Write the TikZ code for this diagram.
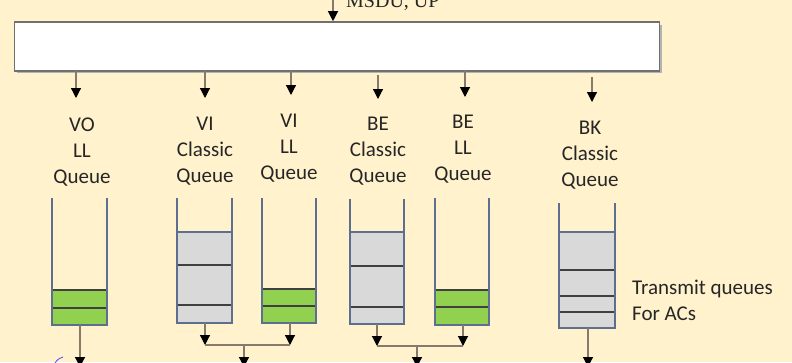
\documentclass[tikz,border=0pt]{standalone}
\usepackage{fontspec}
\setmainfont{Carlito}
\newfontfamily\msduface{Liberation Serif}
\usetikzlibrary{arrows.meta}

\definecolor{bg}{HTML}{FFF2CC}
\definecolor{wire}{HTML}{857B6C}
\definecolor{sidecol}{HTML}{5C6F8E}
\definecolor{greenq}{HTML}{92D050}
\definecolor{grayq}{HTML}{D9D9D9}
\definecolor{boxedge}{HTML}{707070}
\definecolor{ink}{HTML}{262626}

% one transmit queue: #1 left, #2 right, #3 top of the sides, #4 bottom,
% #5 top of the filled part, #6 fill colour, #7 edge of the filled part, #8 divider positions
\newcommand\qtube[8]{%
  \fill[#6] (#1,#5) rectangle (#2,#4);
  \draw[line width=1.3pt, #7] (#1,#5) -- (#2,#5);
  \foreach \d in {#8} \draw[divider] (#1,\d) -- (#2,\d);
  \draw[tubeside] (#1,#5) -- (#1,#4) -- (#2,#4) -- (#2,#5);
  \draw[tubeside] (#1,#3) -- (#1,#5) (#2,#3) -- (#2,#5);
}

\begin{document}
\begin{tikzpicture}[x=1pt,y=-1pt,
  flow/.style={draw=wire, line width=1.2pt,
    -{Triangle[width=10pt,length=10pt,color=black]}},
  wireline/.style={draw=wire, line width=1.2pt},
  lbl/.style={align=center, inner sep=0pt, text=ink,
    font=\fontsize{21}{26}\selectfont},
  tubeside/.style={draw=sidecol, line width=1.4pt, line join=miter},
  divider/.style={draw=black!75, line width=1.5pt},
  mainbox/.style={draw=boxedge, line width=1.6pt, fill=white,
    minimum width=645pt, minimum height=49pt, inner sep=0pt}]

\clip (0,0) rectangle (792,362);
\fill[bg] (0,0) rectangle (792,362);

% distribution block
\fill[black!30] (17,25) rectangle (662,73);
\node[mainbox] (mux) at (337,46.5) {};

% incoming MSDU
\coordinate (src) at (333,-5);
\draw[flow] (src) -- (src |- mux.north);
\node[anchor=base west, inner sep=0pt, text=ink,
  font=\msduface\fontsize{20}{24}\selectfont] (msdu) at (346,7) {MSDU, UP};

% branches to the access categories
\foreach \n/\x/\ya/\yb in {a/76/71/98, b/205/71/98, c/291/71/95,
                           d/378/75/99, e/465/71/97, f/592/77/102} {
  \coordinate (br\n) at (\x,\ya);
  \coordinate (brend\n) at (\x,\yb);
  \draw[flow] (br\n) -- (brend\n);
}

% queue labels
\node[lbl] (vo)  at (82,152)  {VO\\LL\\Queue};
\node[lbl] (vic) at (205,151) {VI\\Classic\\Queue};
\node[lbl] (vil) at (289,148) {VI\\LL\\Queue};
\node[lbl] (bec) at (378,151) {BE\\Classic\\Queue};
\node[lbl] (bel) at (463,149) {BE\\LL\\Queue};
\node[lbl] (bk)  at (590,155) {BK\\Classic\\Queue};

% transmit queues
\qtube{52}{107}{198}{325}{290}{greenq}{black!75}{308}
\qtube{177}{232}{198}{323}{232}{grayq}{sidecol}{265,305}
\qtube{262}{316}{198}{323}{289}{greenq}{black!75}{306}
\qtube{350}{404}{199}{324}{232}{grayq}{sidecol}{266,307}
\qtube{435}{489}{198}{325}{290}{greenq}{black!75}{307}
\qtube{559}{615}{203}{328}{232}{grayq}{sidecol}{270,296,312}

\node[anchor=base west, inner sep=0pt, align=left, text=ink,
  font=\fontsize{21}{26}\selectfont] (txq) at (632,320) {Transmit queues\\For ACs};

% outputs of the queues
\coordinate (oVO) at (80,325);   \coordinate (eVO) at (80,367);
\draw[flow] (oVO) -- (eVO);

\coordinate (oVIc) at (205,323); \coordinate (jVIc) at (205,345);
\coordinate (oVIl) at (290,323); \coordinate (jVIl) at (290,345);
\draw[flow] (oVIc) -- (jVIc);
\draw[flow] (oVIl) -- (jVIl);
\draw[wireline] (jVIc) -- (jVIl);
\coordinate (mVI) at (244,345);  \coordinate (eVI) at (244,367);
\draw[flow] (mVI) -- (eVI);

\coordinate (oBEc) at (377,324); \coordinate (jBEc) at (377,346);
\coordinate (oBEl) at (463,325); \coordinate (jBEl) at (463,346);
\draw[flow] (oBEc) -- (jBEc);
\draw[flow] (oBEl) -- (jBEl);
\draw[wireline] (jBEc) -- (jBEl);
\coordinate (mBE) at (417,346);  \coordinate (eBE) at (417,367);
\draw[flow] (mBE) -- (eBE);

\coordinate (oBK) at (588,328);  \coordinate (eBK) at (588,367);
\draw[flow] (oBK) -- (eBK);

% small blue pen stroke
\coordinate (penA) at (55,363);
\coordinate (penB) at (63,357);
\draw[blue!70, line width=0.8pt] (penA) .. controls (58,359) .. (penB);
\end{tikzpicture}
\end{document}
